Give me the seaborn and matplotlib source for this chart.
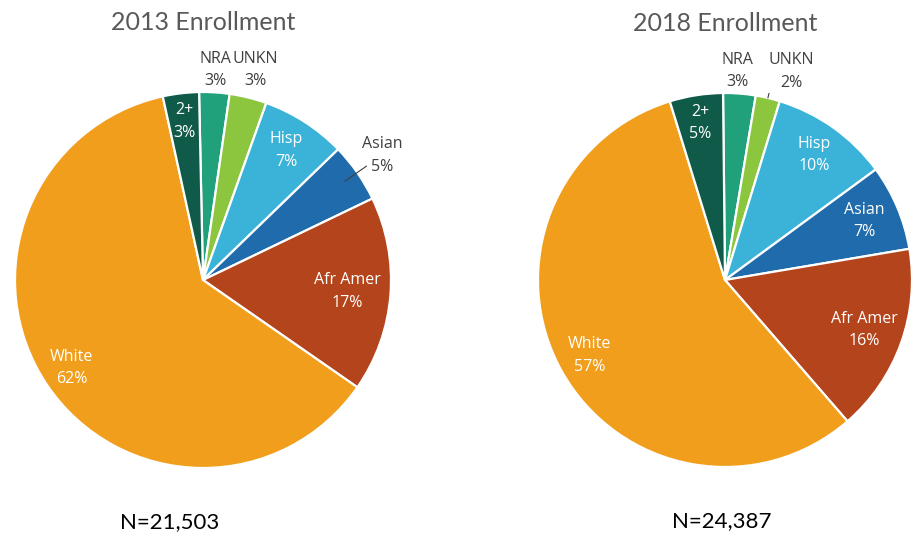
import numpy as np
import seaborn as sns
import matplotlib.pyplot as plt

sns.set_theme(style="white")
plt.rcParams["font.family"] = ["Open Sans", "DejaVu Sans"]

# data (share of enrollment, %)
groups = ["NRA", "UNKN", "Hisp", "Asian", "Afr Amer", "White", "2+"]
share_2013 = [2.6, 3.2, 7.3, 5.1, 16.8, 61.9, 3.1]
share_2018 = [2.8, 2.1, 10.2, 7.4, 16.3, 56.6, 4.6]
totals = ["N=21,503", "N=24,387"]
titles = ["2013 Enrollment", "2018 Enrollment"]

colors = sns.color_palette(["#21a07c", "#8cc63f", "#3bb3d8", "#1f6bab",
                            "#b4441b", "#f09e1c", "#0f5a48"])

# label placement (radius units, clockwise nudge in degrees)
lab_dist = [[1.12, 1.15, 0.82, 1.16, 0.77, 0.84, 0.85],
            [1.12, 1.17, 0.82, 0.81, 0.79, 0.83, 0.85]]
lab_shift = [[0, 0, 0, 0, 0, 0, 0],
             [-1, 4.5, 0, 0, 0, 0, 0]]
outside = [[True, True, False, True, False, False, False],
           [True, True, False, False, False, False, False]]
leaders = [{3: (0.92, 1.06)}, {1: (1.0, 1.07)}]
starts = [91.2, 90.6]
n_x = [-0.18, -0.02]

fig = plt.figure(figsize=(9.14, 5.33), dpi=100)
boxes = [[15 / 914, 65 / 533, 376 / 914, 376 / 533],
         [538 / 914, 66 / 533, 374 / 914, 374 / 533]]

for k, vals in enumerate([share_2013, share_2018]):
    ax = fig.add_axes(boxes[k])
    wedges, _ = ax.pie(vals, colors=colors, startangle=starts[k], counterclock=False,
                       radius=1, wedgeprops=dict(edgecolor="white", linewidth=1.6))
    ax.set_xlim(-1, 1)
    ax.set_ylim(-1, 1)
    ax.set_aspect("equal")
    ax.axis("off")
    for i, w in enumerate(wedges):
        mid = np.deg2rad((w.theta1 + w.theta2) / 2)
        ang = mid - np.deg2rad(lab_shift[k][i])
        r = lab_dist[k][i]
        col = "#404040" if outside[k][i] else "white"
        ax.text(r * np.cos(ang), r * np.sin(ang), f"{groups[i]}\n{round(vals[i])}%",
                ha="center", va="center", fontsize=11.5, color=col, linespacing=1.55)
        if i in leaders[k]:
            r0, r1 = leaders[k][i]
            ax.plot([r0 * np.cos(mid), r1 * np.cos(mid)], [r0 * np.sin(mid), r1 * np.sin(mid)],
                    color="#404040", lw=0.8)
    ax.text(0, 1.37, titles[k], ha="center", va="center", fontsize=18, color="#595959",
            family=["Lato", "DejaVu Sans"])
    ax.text(n_x[k], -1.29, totals[k], ha="center", va="center", fontsize=16, color="black",
            family=["Lato", "DejaVu Sans"])

plt.savefig("out.png", dpi=100)
